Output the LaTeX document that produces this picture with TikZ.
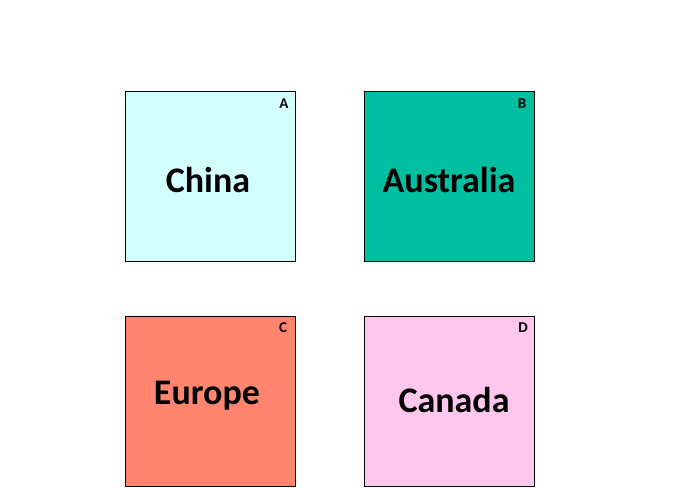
\documentclass[tikz,border=0pt]{standalone}
\usepackage{fontspec}
\setmainfont{Carlito}
\definecolor{cA}{HTML}{D4FFFF}
\definecolor{cB}{HTML}{00BFA0}
\definecolor{cC}{HTML}{FF8570}
\definecolor{cD}{HTML}{FFC6EE}
\begin{document}
\begin{tikzpicture}[x=1pt,y=-1pt,
  region/.style={draw=black,line width=0.8pt,minimum width=170pt,minimum height=170pt,inner sep=0pt,outer sep=0pt},
  bigname/.style={font=\fontsize{36}{36}\selectfont\bfseries,inner sep=0pt},
  corner/.style={font=\fontsize{15}{15}\selectfont\bfseries,inner sep=0pt}]
\useasboundingbox (0,0) rectangle (684,487);
\node[region,fill=cA] (A) at (210,176) {};
\node[region,fill=cB] (B) at (449,176) {};
\node[region,fill=cC] (C) at (210,401) {};
\node[region,fill=cD] (D) at (449,401) {};
\node[bigname] (tA) at (208,180) {China};
\node[bigname] (tB) at (449,180) {Australia};
\node[bigname] (tC) at (207,396) {Europe};
\node[bigname] (tD) at (454,400) {Canada};
\node[corner] (lA) at (284,104) {A};
\node[corner] (lB) at (522,104) {B};
\node[corner] (lC) at (283,328) {C};
\node[corner] (lD) at (523,328) {D};
\end{tikzpicture}
\end{document}
